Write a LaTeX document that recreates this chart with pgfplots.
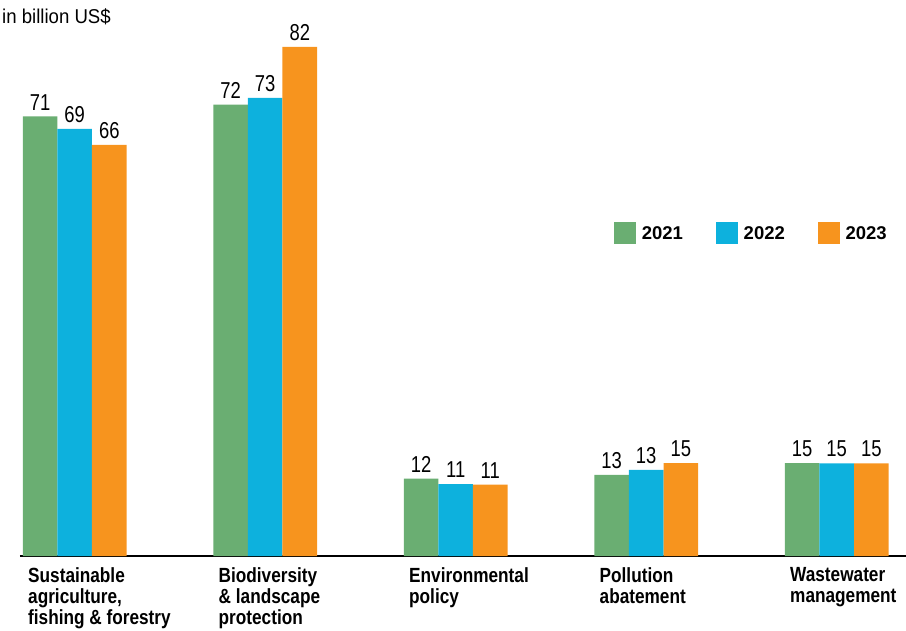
\documentclass[border=0pt]{standalone}
\usepackage{pgfplots}
\pgfplotsset{compat=1.18}
\usepackage{pgfplotstable}
\usepackage{fontspec}
\setmainfont{Liberation Sans}
\newfontfamily\condfont{Liberation Sans}[FakeStretch=0.84]
\newfontfamily\numfont{Liberation Sans}[FakeStretch=0.80]
\newfontfamily\titlefont{Liberation Sans}[FakeStretch=0.93]
\definecolor{cgreen}{RGB}{106,174,114}
\definecolor{cblue}{RGB}{13,177,221}
\definecolor{corange}{RGB}{247,148,30}

\pgfplotstableread{
x y21 l21 y22 l22 y23 l23
0 70.9 71 68.9 69 66.3 66
1 72.8 72 73.9 73 82.1 82
2 12.5 12 11.6 11 11.5 11
3 13.1 13 13.9 13 15.0 15
4 15.0 15 14.95 15 14.95 15
}\data

\begin{document}
\begin{tikzpicture}
\useasboundingbox (-20pt,-74pt) rectangle (886pt,556pt);
\begin{axis}[
  at={(0pt,0pt)}, anchor=south west,
  scale only axis,
  width=886pt, height=556pt,
  xmin=-0.2871, xmax=4.3638,
  ymin=0, ymax=89.677,
  ybar=0pt, bar width=34.6pt,
  axis x line*=bottom,
  axis y line=none,
  x axis line style={-, line width=1.2pt, black},
  xtick={0,1,2,3,4},
  xticklabels={{Sustainable\\agriculture,\\fishing \& forestry},{Biodiversity\\\& landscape\\protection},{Environmental\\policy},{Pollution\\abatement},{Wastewater\\management}},
  xtick style={draw=none},
  xticklabel style={align=left, anchor=north west, inner sep=0pt, xshift=-46.7pt, yshift=-7.3pt, font=\condfont\bfseries\fontsize{20.5}{20.7}\selectfont},
  ytick=\empty,
  clip=false,
  nodes near coords,
  point meta=explicit symbolic,
  nodes near coords style={font=\numfont\fontsize{23}{23}\selectfont, text=black, inner sep=6pt},
  legend columns=3,
  legend image code/.code={\fill[#1,draw=none] (0pt,-9.5pt) rectangle (22pt,12.5pt);},
  legend style={at={(axis description cs:0.6704,0.5818)}, anchor=west, draw=none, fill=none, inner sep=0pt,
    nodes={inner sep=0pt},
    font=\bfseries\fontsize{18.5}{18.5}\selectfont,
    /tikz/every odd column/.append style={column sep=5.7pt},
    /tikz/every even column/.append style={column sep=33pt}},
]
\addplot[fill=cgreen, draw=none] table[x=x, y=y21, meta=l21] {\data};
\addlegendentry{2021}
\addplot[fill=cblue, draw=none] table[x=x, y=y22, meta=l22] {\data};
\addlegendentry{2022}
\addplot[fill=corange, draw=none] table[x=x, y=y23, meta=l23] {\data};
\addlegendentry{2023}
\node[anchor=base west, inner sep=0pt, font=\titlefont\fontsize{20}{20}\selectfont] at ([xshift=-18pt,yshift=-23.3pt]rel axis cs:0,1) {in billion US\$};
\end{axis}
\end{tikzpicture}
\end{document}
